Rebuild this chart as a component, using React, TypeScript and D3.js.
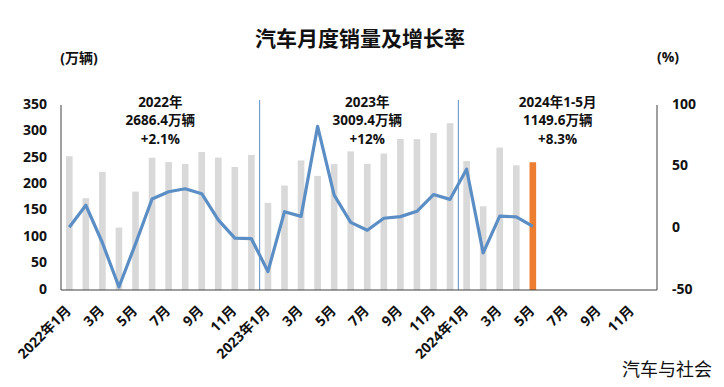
import React from "react";
import * as d3 from "d3";

const years = ["2022", "2023", "2024"];
const monthsPerYear = 12;
const sales = [
  253.1, 173.7, 223.4, 118.1, 186.2, 250.2, 242.0, 238.3, 261.0, 250.5, 232.7, 255.6,
  164.9, 197.6, 245.1, 215.9, 238.2, 262.2, 238.7, 258.2, 285.8, 285.3, 297.0, 315.6,
  243.9, 158.4, 269.4, 235.9, 241.7,
];
const growth = [
  0.9, 18.7, -11.7, -47.6, -12.6, 23.8, 29.7, 32.1, 28.1, 6.9, -7.9, -8.4,
  -35.0, 13.5, 9.7, 82.7, 26.9, 4.8, -1.5, 8.2, 9.5, 13.8, 27.4, 23.5,
  47.9, -19.9, 9.9, 9.3, 1.5,
];
const highlightIndex = 28;
const leftTicks = [0, 50, 100, 150, 200, 250, 300, 350];
const rightTicks = [-50, 0, 50, 100];
const annotations = [
  ["2022年", "2686.4万辆", "+2.1%"],
  ["2023年", "3009.4万辆", "+12%"],
  ["2024年1-5月", "1149.6万辆", "+8.3%"],
];
const annotationMonth = [6, 18.5, 30];

const categories: string[] = [];
years.forEach((y) => {
  for (let m = 1; m <= monthsPerYear; m++) categories.push(`${y}-${m}`);
});
const tickLabel = (c: string) => {
  const [y, m] = c.split("-");
  return m === "1" ? `${y}年1月` : `${m}月`;
};

const W = 724;
const H = 387;
const left = 61;
const right = 657;
const top = 105;
const bottom = 290;
const FONT = "'Open Sans', 'Noto Sans CJK SC', sans-serif";

export default function App() {
  const x = d3
    .scaleBand<string>()
    .domain(categories)
    .range([left, right])
    .paddingInner(0.6)
    .paddingOuter(0.3);
  const step = x.step();
  const cx = (i: number) => (x(categories[i]) as number) + x.bandwidth() / 2;
  const yL = d3.scaleLinear().domain([0, 350]).range([bottom, top]);
  const yR = d3.scaleLinear().domain([-50, 100]).range([bottom, top]);
  const line = d3
    .line<number>()
    .x((_, i) => cx(i))
    .y((d) => yR(d));
  const sepX = [12, 24].map((k) => left + step * k);

  return (
    <div style={{ position: "fixed", left: 0, top: 0 }}>
      <svg width={W} height={H} style={{ display: "block", background: "#fff" }} fontFamily={FONT}>
        <rect width={W} height={H} fill="#fff" />
        <text x={360} y={40} textAnchor="middle" dominantBaseline="middle" fontSize={21} fontWeight="bold" fill="#111">
          汽车月度销量及增长率
        </text>
        <text x={79} y={59} textAnchor="middle" dominantBaseline="middle" fontSize={14} fontWeight="bold" fill="#111">
          (万辆)
        </text>
        <text x={668} y={58} textAnchor="middle" dominantBaseline="middle" fontSize={14} fontWeight="bold" fill="#111">
          (%)
        </text>

        {sales.map((v, i) => (
          <rect
            key={i}
            x={x(categories[i])}
            y={yL(v)}
            width={x.bandwidth()}
            height={yL(0) - yL(v)}
            fill={i === highlightIndex ? "#ED7D31" : "#D9D9D9"}
          />
        ))}

        {sepX.map((sx, i) => (
          <line key={i} x1={sx} x2={sx} y1={100} y2={bottom} stroke="#5B8EC5" strokeWidth={1} />
        ))}

        <path d={line(growth) || ""} fill="none" stroke="#5B8EC5" strokeWidth={3.2} strokeLinejoin="round" />

        <line x1={left} x2={left} y1={top} y2={bottom} stroke="#404040" strokeWidth={1} />
        <line x1={right} x2={right} y1={top} y2={bottom} stroke="#404040" strokeWidth={1} />
        <line x1={left} x2={right} y1={bottom} y2={bottom} stroke="#404040" strokeWidth={1} />

        {leftTicks.map((t) => (
          <text key={t} x={47} y={yL(t)} textAnchor="end" dominantBaseline="middle" fontSize={14} fontWeight="bold" fill="#111">
            {t}
          </text>
        ))}
        {rightTicks.map((t) => (
          <text key={t} x={672} y={yR(t)} textAnchor="start" dominantBaseline="middle" fontSize={14} fontWeight="bold" fill="#111">
            {t}
          </text>
        ))}

        {categories.map((c, i) =>
          i % 2 === 0 ? (
            <text
              key={c}
              transform={`translate(${cx(i)},${bottom + 19}) rotate(-45)`}
              textAnchor="end"
              dominantBaseline="middle"
              fontSize={14}
              fontWeight="bold"
              fill="#111"
            >
              {tickLabel(c)}
            </text>
          ) : null
        )}

        {annotations.map((lines, k) => {
          const ax = left + step * annotationMonth[k];
          return lines.map((t, j) => (
            <text
              key={`${k}-${j}`}
              x={ax}
              y={103 + j * 18.5}
              textAnchor="middle"
              dominantBaseline="middle"
              fontSize={13.5}
              fontWeight="bold"
              fill="#111"
            >
              {t}
            </text>
          ));
        })}

        <text x={712} y={371} textAnchor="end" dominantBaseline="middle" fontSize={18} fill="#111" fontFamily="'Noto Sans CJK SC', sans-serif">
          汽车与社会
        </text>
      </svg>
    </div>
  );
}
